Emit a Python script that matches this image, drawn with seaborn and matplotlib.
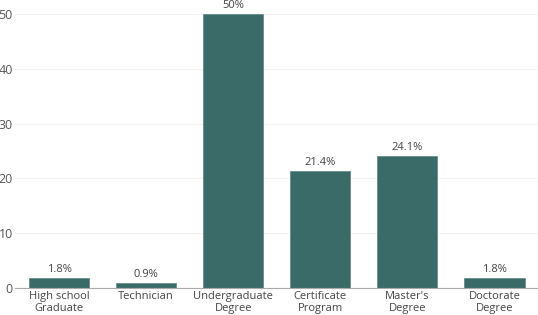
import pandas as pd
import seaborn as sns
import matplotlib.pyplot as plt

categories = ["High school\nGraduate", "Technician", "Undergraduate\nDegree",
              "Certificate\nProgram", "Master's\nDegree", "Doctorate\nDegree"]
values = [1.8, 0.9, 50, 21.4, 24.1, 1.8]
labels = ["1.8%", "0.9%", "50%", "21.4%", "24.1%", "1.8%"]

data = pd.DataFrame({"Education": categories, "Percent": values})

sns.set_style("white")
plt.rcParams['font.family'] = ['Open Sans', 'DejaVu Sans']

fig = plt.figure(figsize=(5.38, 3.15), dpi=100)
ax = fig.add_axes([0.0288, 0.0857, 0.9712, 0.87])
sns.barplot(data=data, x="Education", y="Percent", color="#3b6b69",
            width=0.69, saturation=1, edgecolor="#5a8583", linewidth=0.5, ax=ax)

for i, (v, t) in enumerate(zip(values, labels)):
    ax.text(i, v + 0.5, t, ha="center", va="bottom", fontsize=8, color="#444444")

ax.set_xlim(-0.5, 5.5)
ax.set_ylim(0, 50)
ax.set_yticks([0, 10, 20, 30, 40, 50])
ax.yaxis.grid(True, color="#f2f2f2", linewidth=0.8)
ax.set_axisbelow(True)
for s in ["top", "right", "left"]:
    ax.spines[s].set_visible(False)
ax.spines["bottom"].set_color("#aaaaaa")
ax.spines["bottom"].set_linewidth(0.8)
ax.tick_params(axis="x", length=0, labelsize=8, colors="#444444", pad=2)
ax.tick_params(axis="y", length=0, labelsize=9, colors="#555555", pad=2)
plt.setp(ax.get_xticklabels(), linespacing=1.1)
ax.set_xlabel("")
ax.set_ylabel("")

plt.savefig("out.png", dpi=100)
